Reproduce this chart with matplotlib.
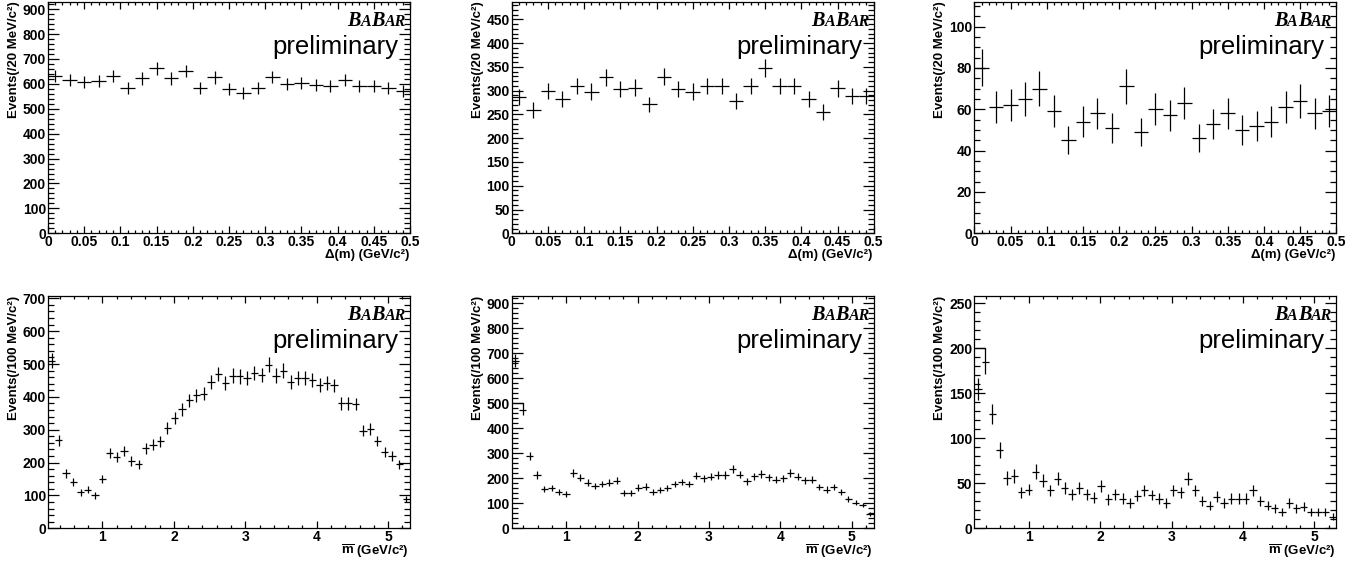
import numpy as np
import matplotlib
matplotlib.use("Agg")
import matplotlib.pyplot as plt
from matplotlib.ticker import MultipleLocator, FuncFormatter

plt.rcParams['font.family'] = ['Liberation Sans', 'DejaVu Sans']
plt.rcParams['font.weight'] = 'bold'
plt.rcParams['mathtext.fontset'] = 'custom'
plt.rcParams['mathtext.rm'] = 'Liberation Sans:bold'
plt.rcParams['mathtext.bf'] = 'Liberation Sans:bold'

# === top row: Delta(m), 25 bins of 20 MeV ===
dm_range = (0.0, 0.5)
dm_left = [631, 615, 608, 612, 631, 582, 622, 662, 622, 652, 584, 626, 579,
           564, 584, 628, 599, 604, 595, 591, 615, 591, 591, 582, 572]
dm_mid = [287, 259, 299, 283, 310, 298, 328, 303, 306, 271, 329, 303, 298,
          310, 310, 278, 310, 347, 310, 310, 282, 255, 305, 289, 289]
dm_right = [80, 61, 62, 65, 70, 59, 45, 54, 58, 51, 71, 49, 60,
            57, 63, 46, 53, 58, 50, 52, 54, 61, 64, 58, 59]

# === bottom row: m-bar, 50 bins of ~100 MeV ===
mbar_range = (0.237, 5.307)
mbar_left = [510, 268, 167, 140, 110, 118, 100, 150, 230, 218,
             235, 205, 195, 243, 255, 265, 305, 337, 362, 390,
             405, 410, 445, 470, 443, 465, 462, 458, 472, 467,
             498, 465, 480, 445, 458, 458, 450, 437, 443, 435,
             380, 380, 378, 297, 302, 266, 232, 221, 195, 88]
mbar_mid = [670, 475, 290, 213, 158, 162, 145, 138, 222, 203,
            183, 170, 177, 183, 190, 142, 143, 163, 167, 145,
            152, 162, 177, 185, 178, 210, 200, 207, 213, 213,
            238, 215, 188, 208, 217, 205, 195, 200, 222, 207,
            192, 195, 165, 155, 165, 145, 118, 102, 93, 58]
mbar_right = [155, 185, 127, 87, 56, 58, 40, 43, 63, 53,
              42, 55, 45, 38, 45, 38, 34, 47, 32, 38,
              33, 28, 36, 42, 37, 33, 28, 42, 40, 55,
              42, 30, 25, 35, 28, 33, 33, 33, 42, 30,
              25, 22, 18, 28, 22, 24, 18, 18, 18, 13]

panels = [
    # data, range, ymax, ymajor, yminor, row, bracket level
    (dm_left, dm_range, 930, 100, 20, 'top', None),
    (dm_mid, dm_range, 487, 50, 10, 'top', None),
    (dm_right, dm_range, 112, 20, 5, 'top', None),
    (mbar_left, mbar_range, 707, 100, 20, 'bottom', None),
    (mbar_mid, mbar_range, 930, 100, 20, 'bottom', 500),
    (mbar_right, mbar_range, 258, 50, 10, 'bottom', 200),
]

W, H = 1359, 565
fig = plt.figure(figsize=(W / 100, H / 100), dpi=100)
col_x = [48, 511.7, 974.3]
row_bottom = {'top': (233.3, 231.6), 'bottom': (528.3, 232.3)}


def babar(ax):
    kw = dict(family='Liberation Serif', weight='bold', style='italic', va='baseline')
    y = 0.895
    t = ax.text(0.989, y, 'AR', fontsize=11.5, ha='right', transform=ax.transAxes, **kw)
    for s, fs in [('B', 14.5), ('A', 11.5), ('B', 14.5)]:
        t = ax.annotate(s, xy=(0, y), xycoords=(t, ax.transAxes), ha='right', fontsize=fs, **kw)
    ax.text(0.968, 0.774, 'preliminary', fontsize=18.5, weight='normal',
            ha='right', va='baseline', transform=ax.transAxes)


for k, (vals, rng, ymax, ymaj, ymin, row, bracket) in enumerate(panels):
    bottom, h = row_bottom[row]
    ax = fig.add_axes([col_x[k % 3] / W, (H - bottom) / H, 362 / W, h / H])
    vals = np.array(vals, dtype=float)
    n = len(vals)
    w = (rng[1] - rng[0]) / n
    x = rng[0] + w * (np.arange(n) + 0.5)
    err = np.sqrt(vals)
    ax.errorbar(x, vals, xerr=w / 2, yerr=err, fmt='none', ecolor='black',
                elinewidth=0.9, capsize=0)
    if bracket is not None:
        ax.plot([rng[0], x[1], x[1]], [bracket, bracket, vals[1] + err[1]],
                color='black', lw=0.9)
    ax.set_xlim(*rng)
    ax.set_ylim(0, ymax)
    ax.yaxis.set_major_locator(MultipleLocator(ymaj))
    ax.yaxis.set_minor_locator(MultipleLocator(ymin))
    if row == 'top':
        ax.xaxis.set_major_locator(MultipleLocator(0.05))
        ax.xaxis.set_minor_locator(MultipleLocator(0.01))
        ax.xaxis.set_major_formatter(FuncFormatter(lambda v, p: '%g' % v))
        xlab = 'Δ(m) (GeV/c²)'
        ylab = 'Events(/20 MeV/c²)'
        xly = -0.066
    else:
        ax.xaxis.set_major_locator(MultipleLocator(1))
        ax.xaxis.set_minor_locator(MultipleLocator(0.2))
        xlab = r'$\overline{\mathbf{m}}$ (GeV/c²)'
        ylab = 'Events(/100 MeV/c²)'
        xly = -0.064
    ax.tick_params(axis='both', which='both', direction='in', top=True, right=True,
                   width=0.9, labelsize=10, pad=1.5)
    ax.tick_params(axis='x', which='major', length=5)
    ax.tick_params(axis='x', which='minor', length=2.5)
    ax.tick_params(axis='y', which='major', length=7.8)
    ax.tick_params(axis='y', which='minor', length=4)
    for sp in ax.spines.values():
        sp.set_linewidth(0.9)
    ax.text(0.997, xly, xlab, fontsize=9.5, ha='right', va='top', transform=ax.transAxes)
    ax.text(-0.094, 1.0, ylab, fontsize=9.5, rotation=90, ha='center', va='top',
            transform=ax.transAxes)
    babar(ax)

fig.savefig('out.png', dpi=100)
